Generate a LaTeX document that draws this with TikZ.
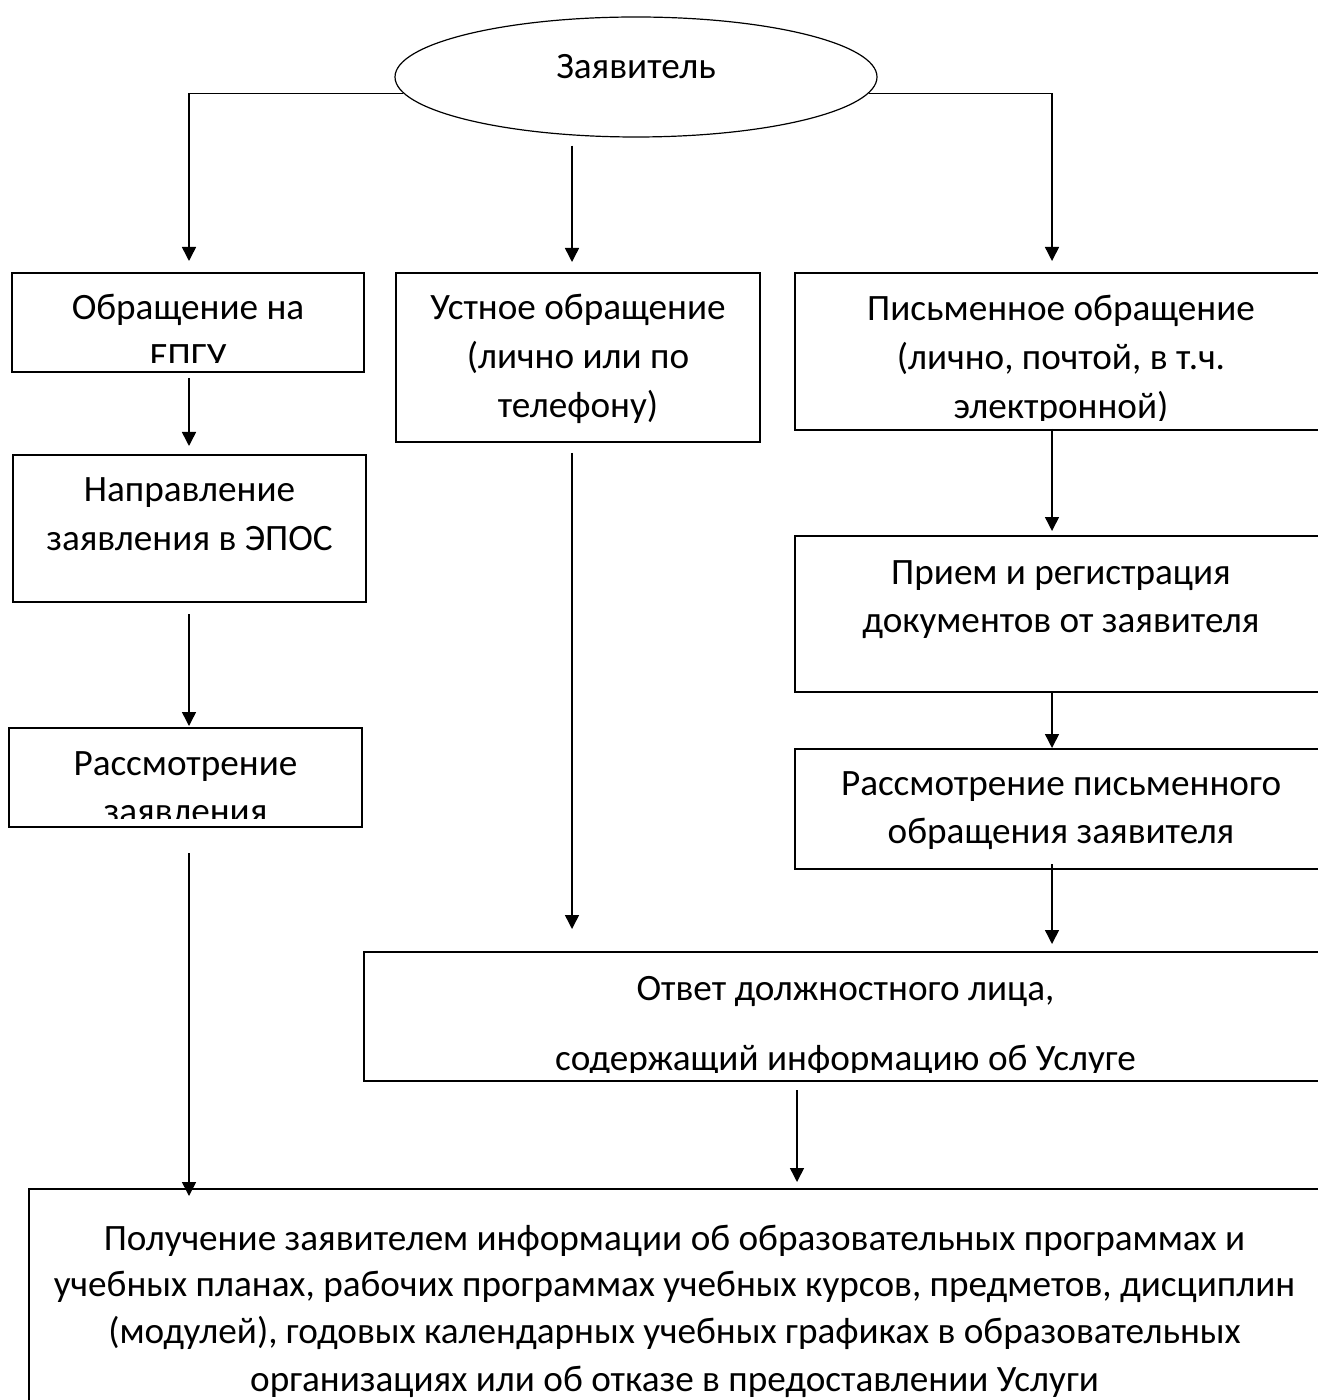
\documentclass[tikz,border=0pt]{standalone}
\usepackage{fontspec}
\setmainfont{Carlito}
\usetikzlibrary{arrows.meta, shapes.geometric, fit, calc}

\tikzset{
  box/.style={draw, line width=1pt, inner sep=0pt},
  lbl/.style={align=flush center, text width=700pt, inner sep=0pt, anchor=base,
    font=\fontsize{18.6}{24.3}\selectfont},
  boxtext/.style 2 args={path picture={
      \clip (path picture bounding box.north west)
        rectangle ([yshift=4.5pt]path picture bounding box.south east);
      \node[lbl] at ([yshift=-#1]path picture bounding box.north) {#2};}},
  arr/.style={-{Triangle[length=7pt,width=7pt]}, line width=0.75pt},
}

\begin{document}
\begin{tikzpicture}[x=0.5pt, y=-0.5pt]
  \useasboundingbox (0,0) rectangle (1317,1400);
  % колонки стрелок
  \coordinate (lcol) at (189,0);
  \coordinate (mcol) at (572,0);
  \coordinate (rcol) at (1052,0);
  \coordinate (ocol) at (797,0);

  % заявитель
  \node[ellipse, draw, line width=0.6pt, inner sep=0pt,
        minimum width=241pt, minimum height=60pt] (zv) at (636,77) {};
  \node[lbl, text width=200pt] (zvlbl) at (636,79) {Заявитель};

  % левая ветвь
  \node[box, fit={(12,273) (364,372)},
        boxtext={23.5pt}{Обращение на\\ЕПГУ}] (epgu) {};
  \node[box, fit={(13,455) (366,602)},
        boxtext={23.5pt}{Направление\\заявления в ЭПОС}] (napr) {};
  \node[box, fit={(9,728) (362,827)},
        boxtext={23.5pt}{Рассмотрение\\заявления}] (rass) {};

  % средняя ветвь
  \node[box, fit={(396,273) (760,442)},
        boxtext={23.5pt}{Устное обращение\\(лично или по\\телефону)}] (ustn) {};

  % правая ветвь
  \node[box, fit={(795,273) (1327,430)},
        boxtext={24pt}{Письменное обращение\\(лично, почтой, в т.ч.\\электронной)}] (pism) {};
  \node[box, fit={(795,536) (1327,692)},
        boxtext={24pt}{Прием и регистрация\\документов от заявителя}] (priem) {};
  \node[box, fit={(795,749) (1327,869)},
        boxtext={23pt}{Рассмотрение письменного\\обращения заявителя}] (rpism) {};
  \node[box, fit={(364,952) (1327,1081)},
        boxtext={24pt}{Ответ должностного лица,\\[10.7pt]содержащий информацию об Услуге}] (otvet) {};

  % итог
  \node[box, fit={(29,1189) (1320,1420)},
        boxtext={30.5pt}{\fontsize{18.6}{23.3}\selectfont Получение заявителем информации об образовательных программах и\\учебных планах, рабочих программах учебных курсов, предметов, дисциплин\\(модулей), годовых календарных учебных графиках в образовательных\\организациях или об отказе в предоставлении Услуги}] (poluch) {};

  % стрелки
  \draw[arr, shorten >=5.5pt] (zv.184.5) -| (lcol |- epgu.north);
  \draw[arr, shorten <=4pt, shorten >=5pt] (mcol |- zv.south) -- (mcol |- ustn.north);
  \draw[arr, shorten >=5.5pt] (zv.-4.5) -| (rcol |- pism.north);
  \draw[arr, shorten <=2.5pt, shorten >=4pt] (lcol |- epgu.south) -- (lcol |- napr.north);
  \draw[arr, shorten <=5.5pt, shorten >=0.5pt] (lcol |- napr.south) -- (lcol |- rass.north);
  \draw[arr, shorten <=12.5pt, shorten >=-4pt] (lcol |- rass.south) -- (lcol |- poluch.north);
  \draw[arr, shorten <=5pt, shorten >=11pt] (mcol |- ustn.south) -- (mcol |- otvet.north);
  \draw[arr, shorten <=-1pt, shorten >=2pt] (rcol |- pism.south) -- (rcol |- priem.north);
  \draw[arr] (rcol |- priem.south) -- (rcol |- rpism.north);
  \draw[arr, shorten <=-3pt, shorten >=3.5pt] (rcol |- rpism.south) -- (rcol |- otvet.north);
  \draw[arr, shorten <=4pt, shorten >=3pt] (ocol |- otvet.south) -- (ocol |- poluch.north);
\end{tikzpicture}
\end{document}
